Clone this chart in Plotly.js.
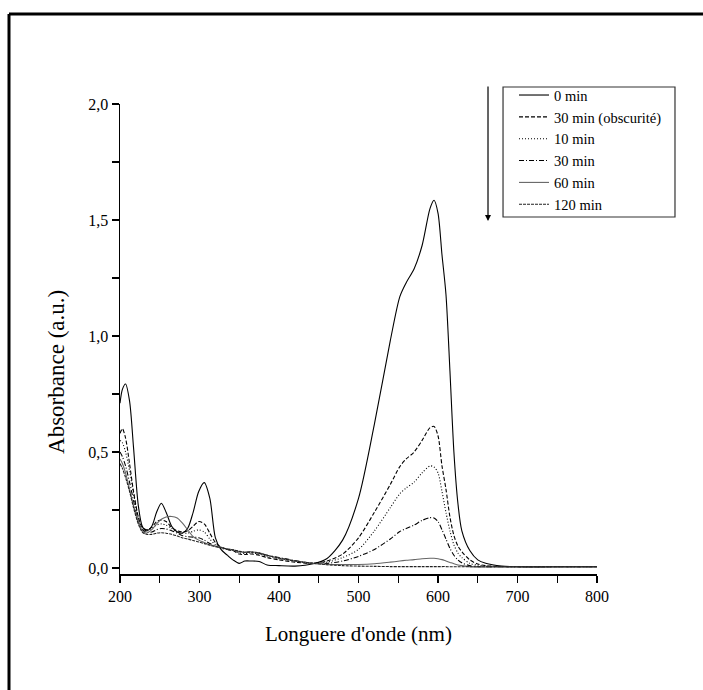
<!DOCTYPE html>
<html>
<head>
<meta charset="utf-8">
<script src="https://cdn.plot.ly/plotly-3.0.1.min.js"></script>
<style>
  html, body { margin: 0; padding: 0; background: #fff; overflow: hidden; }
  #chart { width: 703px; height: 690px; overflow: hidden; }
</style>
</head>
<body>
<div id="chart"></div>
<script>
// Wavelength grid (nm)
const wavelength = [200, 203, 207, 212, 217, 223, 228, 233, 240, 246, 252, 258, 265, 272, 278, 285, 292, 299, 306, 313, 320, 327, 335, 342, 350, 357, 365, 375, 385, 400, 420, 443, 460, 480, 500, 520, 540, 552, 560, 570, 580, 590, 595, 600, 605, 610, 615, 620, 625, 630, 640, 650, 660, 680, 700, 750, 800];

const seriesNames = ["0 min", "30 min (obscurité)", "10 min", "30 min", "60 min", "120 min"];

const abs0 = [0.71, 0.77, 0.793, 0.72, 0.52, 0.27, 0.18, 0.16, 0.18, 0.24, 0.279, 0.24, 0.18, 0.155, 0.15, 0.17, 0.24, 0.33, 0.368, 0.30, 0.13, 0.08, 0.055, 0.035, 0.02, 0.03, 0.03, 0.028, 0.013, 0.01, 0.008, 0.018, 0.04, 0.12, 0.30, 0.62, 0.98, 1.17, 1.23, 1.29, 1.39, 1.55, 1.585, 1.53, 1.35, 1.18, 0.85, 0.50, 0.28, 0.16, 0.075, 0.035, 0.02, 0.008, 0.005, 0.005, 0.005];

const abs30dark = [0.58, 0.60, 0.56, 0.45, 0.33, 0.22, 0.175, 0.165, 0.175, 0.20, 0.207, 0.20, 0.175, 0.16, 0.155, 0.16, 0.18, 0.20, 0.19, 0.15, 0.11, 0.09, 0.08, 0.075, 0.06, 0.058, 0.06, 0.055, 0.045, 0.035, 0.025, 0.02, 0.03, 0.06, 0.13, 0.24, 0.36, 0.437, 0.47, 0.50, 0.55, 0.605, 0.61, 0.57, 0.44, 0.34, 0.22, 0.14, 0.095, 0.07, 0.035, 0.017, 0.01, 0.006, 0.005, 0.005, 0.005];

const abs10 = [0.55, 0.54, 0.50, 0.42, 0.32, 0.22, 0.175, 0.165, 0.17, 0.185, 0.19, 0.185, 0.17, 0.155, 0.15, 0.15, 0.158, 0.164, 0.155, 0.125, 0.10, 0.09, 0.08, 0.075, 0.065, 0.062, 0.065, 0.06, 0.05, 0.04, 0.03, 0.02, 0.025, 0.045, 0.08, 0.16, 0.26, 0.32, 0.345, 0.37, 0.41, 0.44, 0.435, 0.41, 0.33, 0.24, 0.16, 0.10, 0.065, 0.045, 0.02, 0.012, 0.008, 0.006, 0.005, 0.005, 0.005];

const abs30 = [0.50, 0.48, 0.44, 0.37, 0.29, 0.20, 0.165, 0.155, 0.155, 0.165, 0.17, 0.168, 0.16, 0.15, 0.14, 0.135, 0.133, 0.13, 0.12, 0.105, 0.095, 0.085, 0.08, 0.078, 0.07, 0.068, 0.07, 0.065, 0.055, 0.045, 0.032, 0.02, 0.02, 0.03, 0.05, 0.08, 0.125, 0.157, 0.17, 0.185, 0.205, 0.217, 0.215, 0.20, 0.165, 0.125, 0.085, 0.055, 0.035, 0.022, 0.01, 0.006, 0.005, 0.005, 0.005, 0.005, 0.005];

const abs60 = [0.47, 0.45, 0.41, 0.34, 0.27, 0.20, 0.16, 0.15, 0.165, 0.19, 0.21, 0.22, 0.222, 0.215, 0.195, 0.165, 0.135, 0.12, 0.11, 0.10, 0.095, 0.088, 0.082, 0.078, 0.07, 0.068, 0.07, 0.065, 0.055, 0.042, 0.03, 0.02, 0.016, 0.015, 0.015, 0.018, 0.025, 0.03, 0.033, 0.036, 0.04, 0.042, 0.042, 0.04, 0.036, 0.03, 0.024, 0.018, 0.013, 0.01, 0.006, 0.004, 0.004, 0.004, 0.004, 0.004, 0.004];

const abs120 = [0.45, 0.43, 0.39, 0.33, 0.26, 0.19, 0.155, 0.145, 0.145, 0.15, 0.152, 0.15, 0.145, 0.138, 0.13, 0.125, 0.118, 0.112, 0.105, 0.098, 0.092, 0.087, 0.082, 0.078, 0.072, 0.068, 0.068, 0.063, 0.055, 0.043, 0.03, 0.02, 0.014, 0.01, 0.008, 0.007, 0.006, 0.006, 0.006, 0.006, 0.006, 0.006, 0.006, 0.006, 0.006, 0.006, 0.005, 0.005, 0.005, 0.005, 0.005, 0.005, 0.005, 0.005, 0.005, 0.005, 0.005];

const seriesValues = [abs0, abs30dark, abs10, abs30, abs60, abs120];

const yTickVals = [0, 0.5, 1.0, 1.5, 2.0];
const yTickText = ["0,0", "0,5", "1,0", "1,5", "2,0"];
const xTickVals = [200, 300, 400, 500, 600, 700, 800];

const styles = [
  {color: "#000", dash: "solid", width: 1.1},
  {color: "#000", dash: "4px,2px", width: 1.1},
  {color: "#000", dash: "1px,2px", width: 1.1},
  {color: "#000", dash: "5px,2px,1px,2px", width: 1.1},
  {color: "#666", dash: "solid", width: 1.1},
  {color: "#222", dash: "3px,1px", width: 1.1}
];

const traces = seriesNames.map((name, i) => ({
  type: "scatter",
  mode: "lines",
  name: name,
  x: wavelength,
  y: seriesValues[i],
  line: Object.assign({shape: "spline", smoothing: 0.8}, styles[i])
}));

const font = "Liberation Serif, Times New Roman, serif";

const layout = {
  width: 703,
  height: 690,
  margin: {l: 120, r: 106, t: 104, b: 116},
  paper_bgcolor: "#fff",
  plot_bgcolor: "#fff",
  font: {family: font, color: "#000", size: 16},
  showlegend: true,
  legend: {
    x: 0.826, y: 1.053, xanchor: "left", yanchor: "top",
    borderwidth: 0, bgcolor: "rgba(0,0,0,0)",
    font: {family: font, size: 14.5, color: "#000"},
    tracegroupgap: 0
  },
  xaxis: {
    range: [200, 800],
    tickvals: xTickVals,
    ticks: "outside", ticklen: 7, tickwidth: 1.2, tickcolor: "#000",
    minor: {dtick: 50, ticks: "outside", ticklen: 7, tickwidth: 1.2, tickcolor: "#000"},
    showline: true, linecolor: "#000", linewidth: 1.5,
    showgrid: false, zeroline: false,
    tickfont: {family: font, size: 16},
    title: {text: "Longuere d'onde (nm)", font: {family: font, size: 21}, standoff: 22}
  },
  yaxis: {
    range: [-0.026, 2.0],
    tickvals: yTickVals, ticktext: yTickText,
    ticks: "outside", ticklen: 7, tickwidth: 1.2, tickcolor: "#000",
    minor: {dtick: 0.25, ticks: "outside", ticklen: 7, tickwidth: 1.2, tickcolor: "#000"},
    showline: true, linecolor: "#000", linewidth: 1.5,
    showgrid: false, zeroline: false,
    tickfont: {family: font, size: 16}
  },
  annotations: [
    {
      xref: "paper", yref: "paper", x: -0.132, y: 0.43,
      text: "Absorbance (a.u.)", textangle: -90, showarrow: false,
      font: {family: font, size: 23, color: "#000"},
      xanchor: "center", yanchor: "middle"
    },
    {
      xref: "paper", yref: "paper", x: 0.7715, y: 0.751,
      text: "", showarrow: true, ax: 0, ay: -136,
      arrowhead: 2, arrowsize: 1, arrowwidth: 1.2, arrowcolor: "#000", standoff: 0
    }
  ],
  shapes: [
    {
      type: "line", xref: "paper", yref: "paper",
      x0: -0.2327, x1: -0.2327, y0: -0.30, y1: 1.1915,
      line: {color: "#000", width: 3}, layer: "below"
    },
    {
      type: "line", xref: "paper", yref: "paper",
      x0: -0.2327, x1: 1.2222, y0: 1.1915, y1: 1.1915,
      line: {color: "#000", width: 3}, layer: "below"
    },
    {
      type: "rect", xref: "paper", yref: "paper",
      x0: 0.803, x1: 1.1635, y0: 0.7596, y1: 1.0362,
      line: {color: "#333", width: 1.2}, fillcolor: "#fff", layer: "above"
    }
  ]
};

Plotly.newPlot("chart", traces, layout, {staticPlot: true, displayModeBar: false});
</script>
</body>
</html>
